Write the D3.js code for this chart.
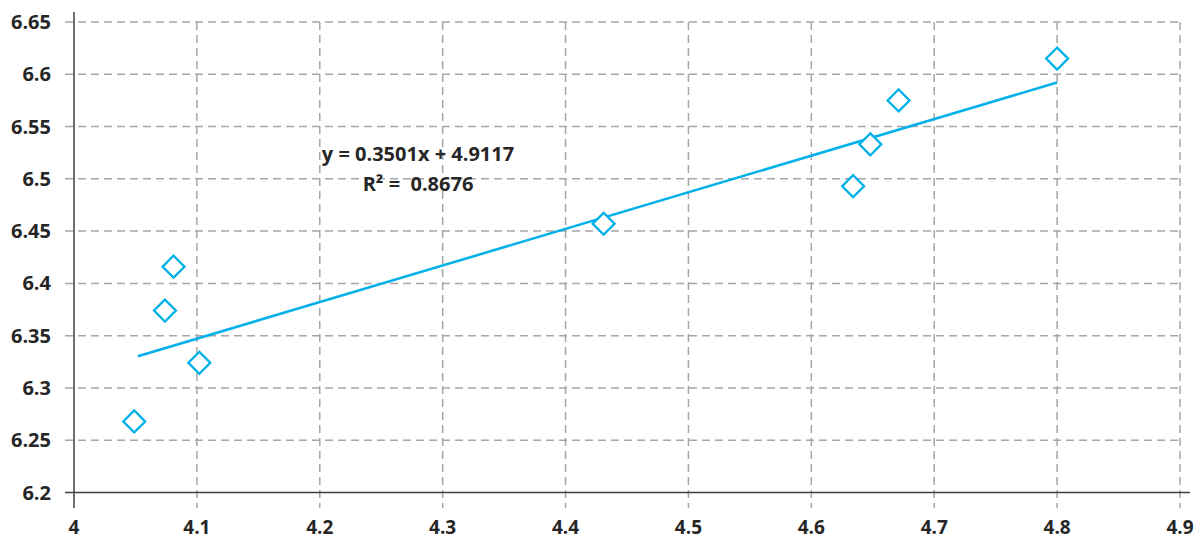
<!DOCTYPE html>
<html>
<head>
<meta charset="utf-8">
<script src="https://cdn.jsdelivr.net/npm/d3@7"></script>
<style>
  body { margin: 0; background: #fff; }
  svg text { font-family: "Open Sans", sans-serif; font-weight: 700; fill: #262626; white-space: pre; }
</style>
</head>
<body>
<svg width="1203" height="541"></svg>
<script>
// --- data ---
const xValues = [4.049, 4.074, 4.081, 4.102, 4.431, 4.634, 4.648, 4.671, 4.800];
const yValues = [6.268, 6.374, 6.416, 6.324, 6.457, 6.493, 6.533, 6.575, 6.615];
const xTicks = [4, 4.1, 4.2, 4.3, 4.4, 4.5, 4.6, 4.7, 4.8, 4.9];
const yTicks = [6.2, 6.25, 6.3, 6.35, 6.4, 6.45, 6.5, 6.55, 6.6, 6.65];
const trendSlope = 0.3501;
const trendIntercept = 4.9117;
const trendRange = [4.052, 4.8];
const trendLabel = ["y = 0.3501x + 4.9117", "R² =  0.8676"];

const points = xValues.map((x, i) => ({ x, y: yValues[i] }));

// --- D3 setup ---
const svg = d3.select("svg");
const blue = "#00B0E8";
const gridColor = "#A6A6A6";

const x = d3.scaleLinear().domain([4, 4.9]).range([74, 1180]);
const y = d3.scaleLinear().domain([6.2, 6.65]).range([492.5, 22]);

// gridlines (dashed, running a little past the axes like tick marks)
const grid = svg.append("g");
grid.selectAll(".hgrid").data(yTicks.slice(1)).enter().append("line")
    .attr("x1", 65).attr("x2", x(4.9))
    .attr("y1", d => y(d)).attr("y2", d => y(d));
grid.selectAll(".vgrid").data(xTicks.slice(1)).enter().append("line")
    .attr("x1", d => x(d)).attr("x2", d => x(d))
    .attr("y1", y(6.65)).attr("y2", 508);
grid.selectAll("line")
    .attr("stroke", gridColor).attr("stroke-width", 1.5)
    .attr("stroke-dasharray", "8,5");

// axes lines
svg.append("line").attr("x1", 65).attr("x2", 1190)
    .attr("y1", y(6.2)).attr("y2", y(6.2))
    .attr("stroke", "#404040").attr("stroke-width", 1.5);
svg.append("line").attr("x1", x(4)).attr("x2", x(4))
    .attr("y1", 12).attr("y2", 508)
    .attr("stroke", "#404040").attr("stroke-width", 1.5);

// tick labels
svg.append("g").selectAll("text").data(yTicks).enter().append("text")
    .attr("x", 51).attr("y", d => y(d)).attr("dy", "0.35em")
    .attr("text-anchor", "end").attr("font-size", 20)
    .text(d => d);
svg.append("g").selectAll("text").data(xTicks).enter().append("text")
    .attr("x", d => x(d)).attr("y", 534)
    .attr("text-anchor", "middle").attr("font-size", 19)
    .text(d => d);

// linear trendline
const trend = trendRange.map(v => ({ x: v, y: trendSlope * v + trendIntercept }));
svg.append("path").datum(trend)
    .attr("d", d3.line().x(d => x(d.x)).y(d => y(d.y)))
    .attr("fill", "none").attr("stroke", blue).attr("stroke-width", 2.5);

// diamond markers
const diamond = d3.symbol().type(d3.symbolSquare).size(240);
svg.append("g").selectAll("path").data(points).enter().append("path")
    .attr("d", diamond)
    .attr("transform", d => `translate(${x(d.x)},${y(d.y)}) rotate(45)`)
    .attr("fill", "#fff").attr("stroke", blue).attr("stroke-width", 2.3);

// equation label
svg.append("g").selectAll("text").data(trendLabel).enter().append("text")
    .attr("x", 418).attr("y", (d, i) => 161 + i * 30)
    .attr("text-anchor", "middle").attr("font-size", 20)
    .text(d => d);
</script>
</body>
</html>
